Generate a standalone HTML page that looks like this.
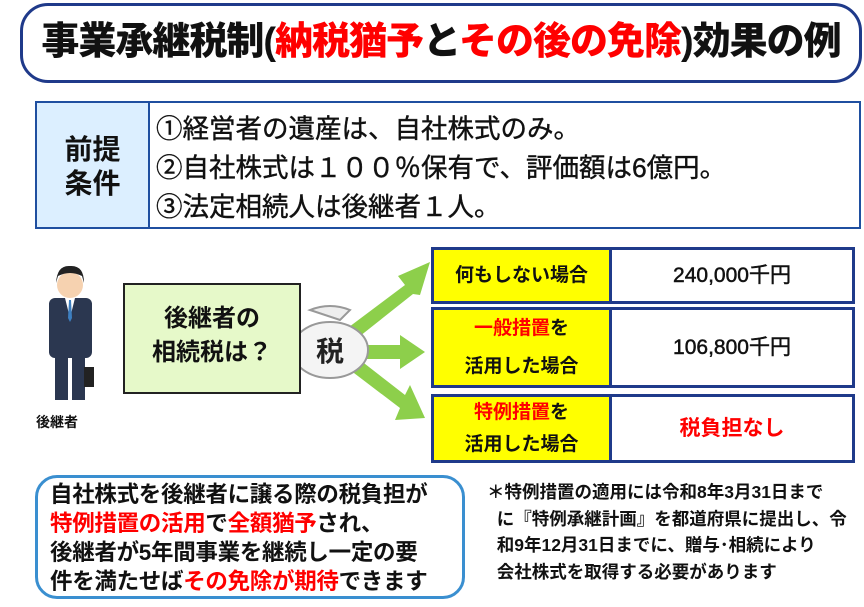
<!DOCTYPE html>
<html><head><meta charset="utf-8"><style>
body{margin:0;width:864px;height:607px;background:#fff;position:relative;overflow:hidden;font-family:"Liberation Sans","Noto Sans CJK JP",sans-serif;font-weight:bold;color:#111}
.a{position:absolute}
.r{color:#f00}
</style></head><body>
<div class="a" style="left:20px;top:3px;width:836px;height:74px;border:3px solid #1f3a8a;border-radius:28px"></div>
<div class="a" style="left:20px;top:18px;width:842px;text-align:center;font-size:38px;line-height:48px;font-weight:900;letter-spacing:-1px">事業承継税制(<span class="r">納税猶予</span>と<span class="r">その後の免除</span>)効果の例</div>

<div class="a" style="left:35px;top:101px;width:822px;height:124px;border:2px solid #1f4fa0"></div>
<div class="a" style="left:37px;top:103px;width:111px;height:124px;background:#dcefff;border-right:2px solid #1f4fa0"></div>
<div class="a" style="left:37px;top:133px;width:111px;text-align:center;font-size:28px;line-height:34px">前提<br>条件</div>
<div class="a" style="left:156px;top:110px;font-size:26.5px;line-height:39px;font-weight:normal;-webkit-text-stroke:0.4px #111;white-space:nowrap">①経営者の遺産は、自社株式のみ。<br>②自社株式は１００％保有で、評価額は6億円。<br>③法定相続人は後継者１人。</div>

<svg class="a" style="left:0;top:0" width="864" height="607">
<circle cx="70" cy="285" r="13" fill="#f6d2b0"/><path d="M56 283 Q57 265 70 266 Q84 265 84 283 L82 276 Q70 270 58 276Z" fill="#222"/>
<rect x="49" y="298" width="43" height="60" rx="6" fill="#2b3750"/>
<path d="M65 298 L70 318 L75 298Z" fill="#fff"/><path d="M69 300 L71 300 L72 318 L70 322 L68 318Z" fill="#3d7fc0"/>
<rect x="55" y="355" width="13" height="45" fill="#2b3750"/><rect x="72" y="355" width="13" height="45" fill="#2b3750"/>
<rect x="84" y="367" width="10" height="20" fill="#222"/>
<g fill="#8dcf4b">
<polygon points="345,330 405,285 398,276 430,262 420,295 413,294 355,340"/>
<polygon points="360,345 400,345 400,335 425,352 400,369 400,359 360,359"/>
<polygon points="350,370 360,360 405,395 410,385 425,418 395,420 400,408"/>
</g>
<path d="M310 310 Q330 302 350 310 L340 320 Z" fill="#eee" stroke="#999" stroke-width="2"/>
<ellipse cx="330" cy="350" rx="38" ry="28" fill="#f4f4f4" stroke="#999" stroke-width="2"/>
<text x="330" y="361" text-anchor="middle" font-size="28" font-weight="bold" font-family="Liberation Sans,Noto Sans CJK JP,sans-serif" fill="#222">税</text>
</svg>
<div class="a" style="left:36px;top:412px;font-size:14px">後継者</div>

<div class="a" style="left:123px;top:283px;width:174px;height:107px;background:#e6f9c9;border:2px solid #222"></div>
<div class="a" style="left:123px;top:302px;width:178px;text-align:center;font-size:24px;line-height:34px">後継者の<br>相続税は？</div>

<div class="a" style="left:431px;top:247px;width:418px;height:51px;border:3px solid #1f3a8a;background:#fff"></div>
<div class="a" style="left:434px;top:250px;width:175px;height:51px;background:#ffff00;border-right:3px solid #1f3a8a;text-align:center;font-size:19px;line-height:51px">何もしない場合</div>
<div class="a" style="left:612px;top:250px;width:240px;text-align:center;font-size:21px;line-height:51px;font-weight:normal;-webkit-text-stroke:0.5px #111">240,000千円</div>

<div class="a" style="left:431px;top:307px;width:418px;height:75px;border:3px solid #1f3a8a;background:#fff"></div>
<div class="a" style="left:434px;top:310px;width:175px;height:75px;background:#ffff00;border-right:3px solid #1f3a8a;text-align:center;font-size:19px;line-height:38px"><span class="r">一般措置</span>を<br>活用した場合</div>
<div class="a" style="left:612px;top:310px;width:240px;text-align:center;font-size:21px;line-height:75px;font-weight:normal;-webkit-text-stroke:0.5px #111">106,800千円</div>

<div class="a" style="left:431px;top:394px;width:418px;height:63px;border:3px solid #1f3a8a;background:#fff"></div>
<div class="a" style="left:434px;top:397px;width:175px;height:63px;background:#ffff00;border-right:3px solid #1f3a8a;text-align:center;font-size:19px;line-height:32px"><span class="r">特例措置</span>を<br>活用した場合</div>
<div class="a r" style="left:612px;top:397px;width:240px;text-align:center;font-size:21px;line-height:63px">税負担なし</div>

<div class="a" style="left:35px;top:475px;width:424px;height:118px;border:3px solid #3a8fd0;border-radius:22px"></div>
<div class="a" style="left:50px;top:480px;font-size:22.5px;line-height:29px;white-space:nowrap;letter-spacing:-0.3px">自社株式を後継者に譲る際の税負担が<br><span class="r">特例措置の活用</span>で<span class="r">全額猶予</span>され、<br>後継者が5年間事業を継続し一定の要<br>件を満たせば<span class="r">その免除が期待</span>できます</div>

<div class="a" style="left:487px;top:479px;font-size:17.5px;line-height:26.5px;white-space:nowrap">＊特例措置の適用には令和8年3月31日まで<br>&nbsp;&nbsp;に『特例承継計画』を都道府県に提出し、令<br>&nbsp;&nbsp;和9年12月31日までに、贈与･相続により<br>&nbsp;&nbsp;会社株式を取得する必要があります</div>
</body></html>
